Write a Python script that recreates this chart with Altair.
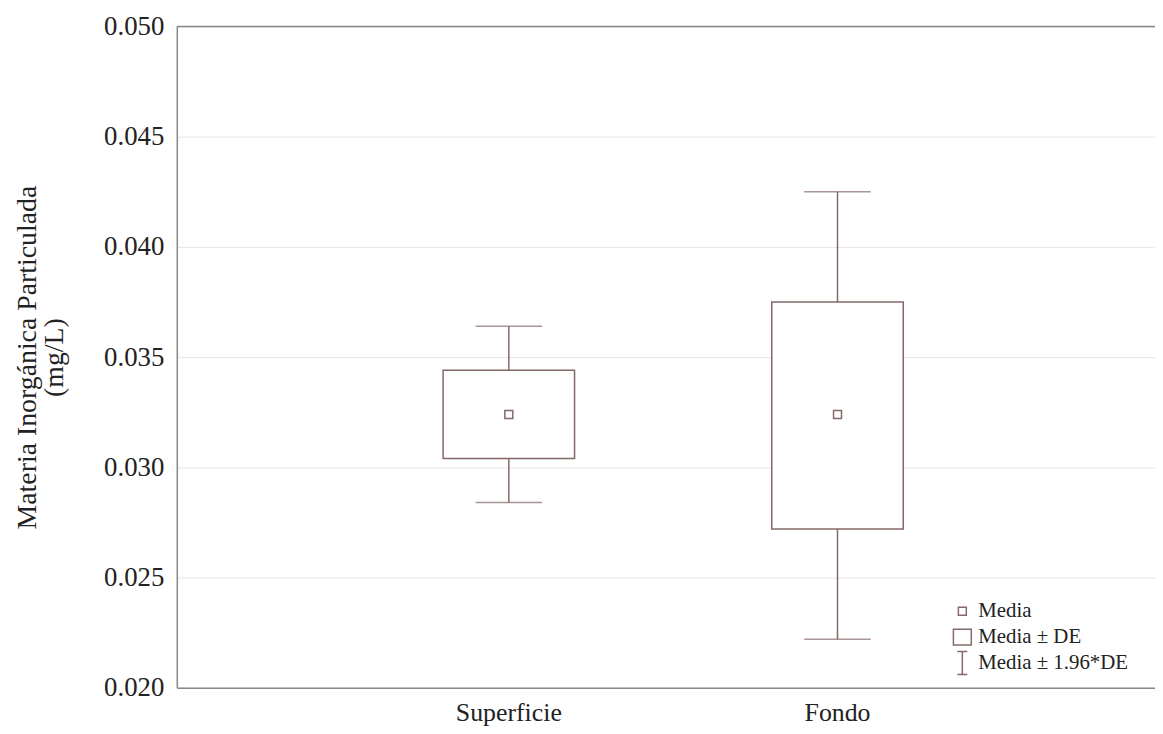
import altair as alt
import pandas as pd

# Values
categorias = ["Superficie", "Fondo"]
medias = [0.0324, 0.0324]
de_bajo = [0.0304, 0.0272]      # Media - DE
de_alto = [0.0344, 0.0375]      # Media + DE
ic_bajo = [0.0284, 0.0222]      # Media - 1.96*DE
ic_alto = [0.0364, 0.0425]      # Media + 1.96*DE
y_ticks = [0.020, 0.025, 0.030, 0.035, 0.040, 0.045, 0.050]
leyenda = ["Media", "Media ± DE", "Media ± 1.96*DE"]

df = pd.DataFrame({
    "categoria": categorias,
    "media": medias,
    "de_bajo": de_bajo,
    "de_alto": de_alto,
    "ic_bajo": ic_bajo,
    "ic_alto": ic_alto,
    "leyenda": ["Media"] * len(categorias),
})

COL = "#856868"
FONT = "Liberation Serif"

yscale = alt.Scale(domain=[y_ticks[0], y_ticks[-1]], nice=False, zero=False)
xenc = alt.X(
    "categoria:N",
    sort=categorias,
    scale=alt.Scale(paddingInner=0.6, paddingOuter=0.788, align=0.514),
    axis=alt.Axis(title=None, labelAngle=0, ticks=False, labelPadding=12,
                  labelFontSize=26, labelFont=FONT, labelColor="#222",
                  domainColor="#888", domainWidth=1.5, grid=False),
)
yaxis = alt.Axis(
    title=["Materia Inorgánica Particulada", "(mg/L)"],
    values=y_ticks, format=".3f", ticks=False, labelPadding=13,
    labelFontSize=27, labelFont=FONT, labelColor="#222",
    titleFontSize=28, titleFont=FONT, titleColor="#222", titleFontWeight="normal",
    titlePadding=35, titleLineHeight=28,
    domainColor="#888", domainWidth=1.5,
    grid=True, gridColor="#e6e6e6", gridWidth=1,
)

base = alt.Chart(df)

whisker = base.mark_rule(color=COL, strokeWidth=1.5).encode(
    x=xenc,
    y=alt.Y("ic_bajo:Q", scale=yscale, axis=yaxis),
    y2="ic_alto:Q",
)
cap_top = base.mark_tick(color=COL, size=67, thickness=1.5).encode(
    x=xenc, y=alt.Y("ic_alto:Q", scale=yscale)
)
cap_bot = base.mark_tick(color=COL, size=67, thickness=1.5).encode(
    x=xenc, y=alt.Y("ic_bajo:Q", scale=yscale)
)
box = base.mark_bar(fill="white", stroke=COL, strokeWidth=1.5).encode(
    x=xenc, y=alt.Y("de_bajo:Q", scale=yscale), y2="de_alto:Q"
)

# legend glyphs (the leading moves give every entry the same height)
pad = "M0,-1.15M0,1.15"
small_sq = pad + "M-0.4,-0.4H0.4V0.4H-0.4Z"
big_sq = pad + "M-0.9,-0.8H0.9V0.8H-0.9Z"
ibeam = pad + "M-0.5,-1.15H0.5M0,-1.15V1.15M-0.5,1.15H0.5"

media = base.mark_point(filled=False, color=COL, strokeWidth=1.5, size=400, opacity=1).encode(
    x=xenc,
    y=alt.Y("media:Q", scale=yscale),
    shape=alt.Shape(
        "leyenda:N",
        scale=alt.Scale(domain=leyenda, range=[small_sq, big_sq, ibeam]),
        legend=alt.Legend(
            title=None, orient="none", legendX=780, legendY=578,
            symbolSize=400, symbolStrokeWidth=1.5, symbolStrokeColor=COL,
            symbolFillColor="transparent",
            labelFont=FONT, labelFontSize=21, labelColor="#222",
            labelOffset=5, rowPadding=-9,
        ),
    ),
)

top = alt.Chart(pd.DataFrame({"y": [y_ticks[-1]]})).mark_rule(
    color="#888", strokeWidth=1.5
).encode(y=alt.Y("y:Q", scale=yscale))

chart = alt.layer(whisker, cap_top, cap_bot, box, media, top).properties(
    width=985, height=666,
    autosize=alt.AutoSizeParams(type="none"),
    padding={"left": 170, "top": 16, "right": 0, "bottom": 46},
).configure_view(stroke=None).configure(background="white")

chart.save("out.html", embed_options={"renderer": "svg", "actions": False})
